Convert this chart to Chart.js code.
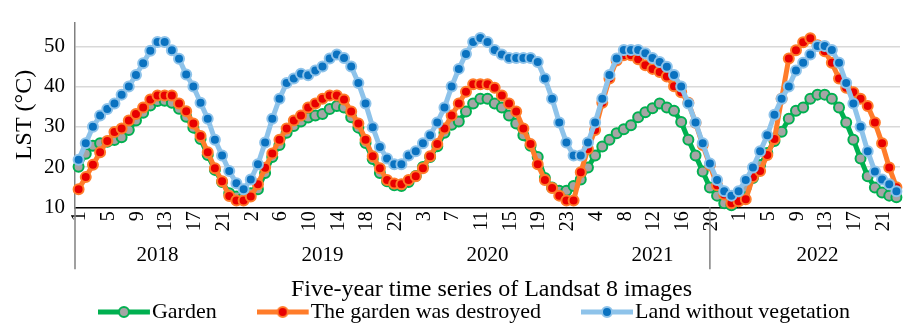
<!DOCTYPE html>
<html>
<head>
<meta charset="utf-8">
<script src="https://cdn.jsdelivr.net/npm/chart.js@4.4.1/dist/chart.umd.min.js"></script>
<style>
  html, body { margin: 0; padding: 0; background: #fff; }
  #wrap { width: 907px; height: 324px; }
</style>
</head>
<body>
<div id="wrap"><canvas id="lstChart" width="907" height="324"></canvas></div>
<script>
const years = ['2018', '2019', '2020', '2021', '2022'];
const imagesPerYear = 23;
const imageLabels = years.flatMap(() => Array.from({ length: imagesPerYear }, (_, i) => String(i + 1)));
const labelEvery = 4;
const yTicks = [10, 20, 30, 40, 50];
const seriesNames = ['Garden', 'The garden was destroyed', 'Land without vegetation'];
const xTitle = 'Five-year time series of Landsat 8 images';
const yTitle = 'LST (°C)';

// one row per year, 23 Landsat 8 scenes each
const garden = [
  20.1, 23.3, 25.3, 25.9, 26.3, 26.7, 27.4, 29.2, 31.6, 33.5, 35.3, 36.4, 36.5, 36.0, 34.5, 32.5, 29.8, 27.0, 23.0, 19.3, 16.3, 13.5, 12.7,
  12.5, 13.5, 14.5, 18.5, 22.5, 25.5, 28.5, 30.2, 31.3, 32.3, 32.8, 33.2, 34.4, 35.2, 34.8, 32.4, 29.8, 26.0, 22.0, 18.5, 16.5, 15.5, 15.3,
  16.3, 17.8, 20.0, 22.5, 25.2, 28.5, 30.5, 31.3, 33.8, 35.8, 37.0, 37.0, 35.8, 34.8, 32.8, 30.8, 27.9, 25.3, 22.5, 17.3, 14.9, 14.1, 14.1,
  15.3, 16.9, 19.9, 22.9, 25.1, 26.8, 28.4, 29.4, 30.4, 32.4, 33.6, 34.6, 35.8, 34.8, 34.0, 31.2, 26.8, 22.9, 18.9, 14.9, 12.9, 11.0, 10.5,
  12.0, 14.9, 17.3, 20.5, 23.5, 26.5, 28.8, 32.0, 34.0, 34.8, 37.0, 38.0, 38.0, 37.0, 34.8, 31.1, 26.8, 22.1, 17.7, 14.9, 13.7, 12.9, 12.5
];
const destroyed = [
  14.5, 17.5, 20.6, 23.7, 26.5, 28.7, 29.6, 31.6, 33.2, 34.8, 36.8, 37.8, 37.8, 37.8, 35.8, 33.9, 30.8, 27.7, 23.7, 19.7, 16.5, 12.8, 11.7,
  11.7, 12.7, 15.7, 19.8, 23.4, 26.8, 29.6, 31.6, 32.8, 34.8, 35.8, 37.0, 37.8, 37.8, 36.8, 33.8, 30.8, 26.8, 22.7, 19.7, 16.8, 15.9, 15.7,
  16.8, 17.7, 19.7, 22.7, 25.7, 29.6, 32.8, 35.8, 38.7, 40.6, 40.6, 40.6, 39.7, 37.8, 35.8, 33.8, 29.6, 25.7, 20.7, 16.8, 14.8, 12.9, 11.7,
  11.7, 18.7, 24.5, 29.2, 36.0, 42.0, 46.5, 47.8, 47.8, 46.8, 45.3, 44.4, 43.6, 42.5, 40.1, 38.6, 36.0, 31.0, 25.5, 20.5, 15.5, 13.2, 11.0,
  11.5, 12.0, 17.5, 19.0, 23.0, 27.0, 37.0, 47.0, 49.0, 51.0, 52.0, 50.3, 48.8, 45.9, 42.0, 39.7, 38.6, 37.0, 35.2, 31.1, 25.9, 19.9, 15.0
];
const bareLand = [
  21.8, 25.9, 30.0, 32.8, 34.4, 35.8, 38.0, 40.0, 42.9, 45.8, 48.9, 51.1, 51.1, 49.0, 46.9, 43.0, 40.0, 36.0, 32.0, 26.8, 22.9, 19.0, 16.0,
  14.5, 16.9, 20.7, 26.1, 32.0, 37.0, 40.9, 42.0, 43.2, 42.8, 44.0, 45.0, 47.0, 48.0, 47.1, 45.0, 40.9, 35.8, 29.9, 25.0, 22.1, 20.7, 20.7,
  22.9, 23.9, 25.9, 27.9, 31.1, 34.8, 40.0, 44.4, 48.1, 51.1, 52.1, 51.1, 49.1, 48.0, 47.1, 47.1, 47.1, 47.1, 46.1, 42.0, 37.0, 31.1, 26.1,
  22.9, 22.9, 26.1, 31.1, 37.0, 42.9, 47.0, 49.1, 49.1, 49.1, 48.3, 47.1, 46.1, 44.9, 42.9, 40.0, 35.8, 31.1, 25.9, 20.9, 16.8, 14.0, 12.9,
  14.0, 16.8, 19.9, 23.9, 27.9, 33.0, 37.0, 40.0, 44.0, 45.9, 48.0, 50.1, 50.1, 49.1, 45.9, 40.9, 35.8, 30.0, 23.9, 18.9, 16.9, 15.7, 14.0
];

const serif = '"Liberation Serif", "Times New Roman", serif';
const styles = [
  { line: '#00b050', fill: '#a5a5a5' },
  { line: '#ff7c2a', fill: '#e80000' },
  { line: '#8ec3ea', fill: '#0a72c0' }
];

// legend geometry (right aligned row, swatch hangs left of the box)
const legendFont = 22;
const legendPad = 57;
const legendBox = 26;
const swatchLen = 52;
const legendRowY = 312;
const chartBottom = 207.3;
const legendTop = legendRowY - legendPad - legendFont / 2;

function swatch(s) {
  const c = document.createElement('canvas');
  c.width = 2 * (swatchLen + 2 - legendFont / 2) - legendBox; c.height = 16;
  const g = c.getContext('2d');
  g.strokeStyle = s.line; g.lineWidth = 5;
  g.beginPath(); g.moveTo(0, 8); g.lineTo(swatchLen, 8); g.stroke();
  g.beginPath(); g.arc(swatchLen / 2, 8, 5, 0, Math.PI * 2);
  g.fillStyle = s.fill; g.fill(); g.lineWidth = 2; g.stroke();
  return c;
}

// rotated image numbers, year names, group dividers and x title
const yearAxis = {
  id: 'yearAxis',
  afterDraw(chart) {
    const { ctx, scales: { x } } = chart;
    ctx.save();
    ctx.fillStyle = '#000';
    ctx.font = `20px ${serif}`;
    ctx.textAlign = 'right';
    ctx.textBaseline = 'middle';
    imageLabels.forEach((lab, i) => {
      if (i % labelEvery) return;
      ctx.save();
      ctx.translate(x.getPixelForValue(i) + 1.5, x.top + 4);
      ctx.rotate(-Math.PI / 2);
      ctx.fillText(lab, 0, 0);
      ctx.restore();
    });
    ctx.textAlign = 'center';
    ctx.font = `21px ${serif}`;
    years.forEach((yr, i) => {
      ctx.fillText(yr, x.getPixelForValue(i * imagesPerYear + (imagesPerYear - 1) / 2), x.top + 48);
    });
    ctx.font = `24px ${serif}`;
    ctx.fillText(xTitle, (x.left + x.right) / 2 + 4, 290);
    ctx.strokeStyle = '#808080';
    ctx.lineWidth = 1.5;
    [x.left, x.getPixelForValue(88)].forEach(px => {
      ctx.beginPath(); ctx.moveTo(px, x.top); ctx.lineTo(px, x.top + 62); ctx.stroke();
    });
    ctx.restore();
  }
};

new Chart(document.getElementById('lstChart'), {
  type: 'line',
  data: {
    labels: imageLabels,
    datasets: [garden, destroyed, bareLand].map((vals, i) => ({
      label: seriesNames[i],
      data: vals,
      order: 3 - i,
      borderColor: styles[i].line,
      backgroundColor: styles[i].fill,
      borderWidth: 5,
      pointRadius: 5,
      pointBorderWidth: 2,
      pointBackgroundColor: styles[i].fill,
      pointBorderColor: styles[i].line,
      tension: 0,
      clip: false
    }))
  },
  options: {
    responsive: false,
    animation: false,
    layout: { padding: { top: 15, left: 0, right: 0, bottom: 324 - (legendTop + legendPad + legendFont + 10) } },
    plugins: {
      tooltip: { enabled: false },
      legend: {
        position: 'bottom',
        align: 'end',
        labels: {
          usePointStyle: true,
          pointStyleWidth: legendBox,
          padding: legendPad,
          color: '#000',
          font: { family: serif, size: legendFont },
          generateLabels: chart => chart.data.datasets.map((d, i) => ({
            text: d.label, datasetIndex: i, pointStyle: swatch(styles[i]),
            fillStyle: styles[i].fill, strokeStyle: styles[i].line, lineWidth: 0, fontColor: '#000'
          }))
        }
      }
    },
    scales: {
      x: {
        offset: true,
        grid: { display: false, drawTicks: false },
        border: { color: '#000', width: 1.5 },
        ticks: { display: false },
        afterFit(s) { s.height = legendTop - chartBottom; }
      },
      y: {
        min: 10,
        max: 55.9,
        afterBuildTicks(s) { s.ticks = yTicks.map(v => ({ value: v })); },
        grid: { color: '#d9d9d9', lineWidth: 1.5, drawTicks: false },
        border: { color: '#808080', width: 1.5 },
        ticks: { padding: 10, color: '#000', font: { family: serif, size: 21 } },
        title: { display: true, text: yTitle, color: '#000', font: { family: serif, size: 24 }, padding: { top: 10, bottom: 0 } },
        afterFit(s) { s.width = 75; }
      }
    }
  },
  plugins: [yearAxis]
});
</script>
</body>
</html>
